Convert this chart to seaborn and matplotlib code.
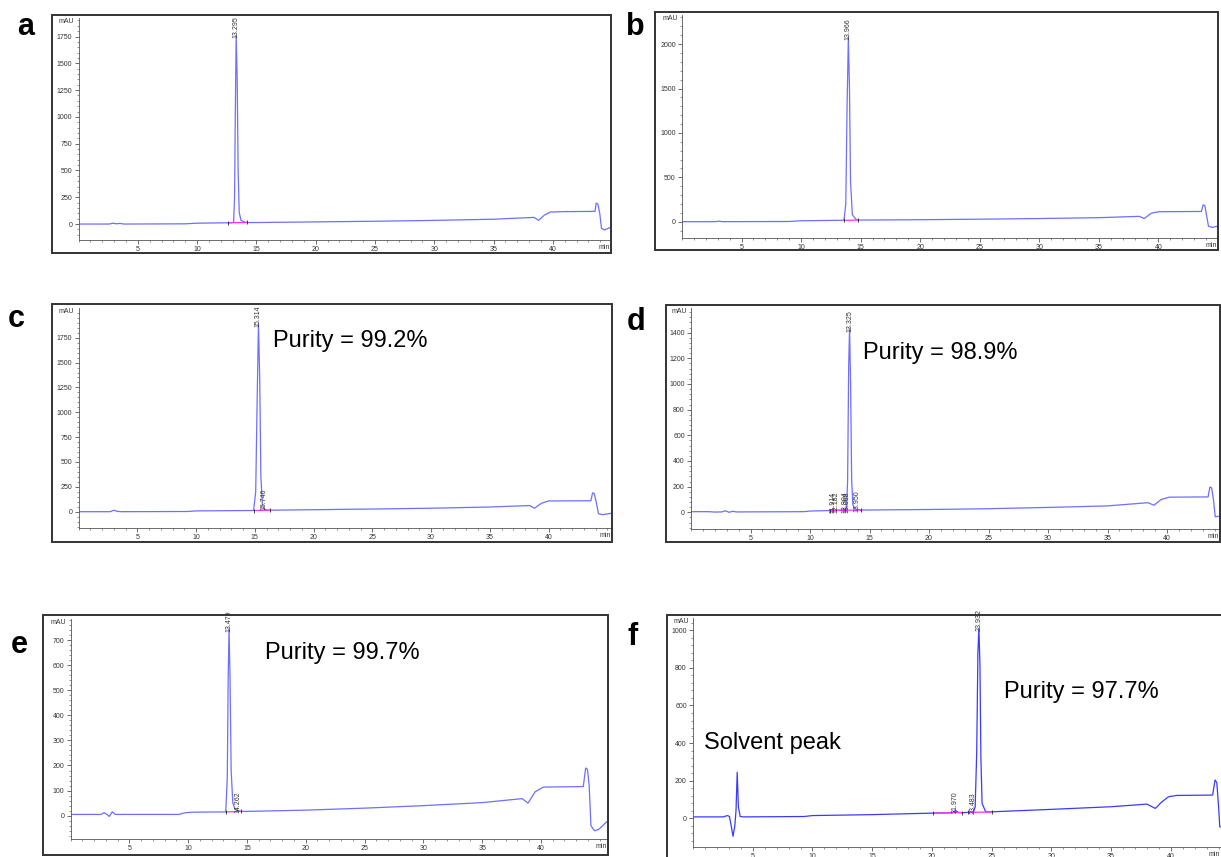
import matplotlib
matplotlib.use("Agg")
import matplotlib.pyplot as plt
import seaborn as sns
import pandas as pd
from matplotlib.patches import Rectangle
from matplotlib.ticker import FixedLocator, MultipleLocator

sns.set_style("white")
plt.rcParams['font.family'] = ['Liberation Sans', 'DejaVu Sans']

# ---------------- data (retention time in min, signal in mAU) ----------------
a_time = [0, 2.6, 2.9, 3.2, 3.5, 3.8, 4.2, 9.0, 10.0, 12.9, 13.08, 13.16, 13.22, 13.295, 13.38,
          13.46, 13.55, 13.7, 14.0, 14.3, 15, 20, 25, 30, 35, 38.4, 38.8, 39.3, 39.8, 41,
          43.55, 43.65, 43.8, 43.95, 44.1, 44.35, 44.9]
a_mau = [0, 0, 8, 2, 6, 0, 0, 2, 8, 12, 16, 250, 1000, 1760, 1350,
         500, 110, 35, 18, 14, 14, 20, 26, 34, 45, 62, 35, 85, 112, 116,
         118, 195, 185, 100, -40, -55, -30]
a_peak_t = [13.295]
a_peak_lab = ["13.295"]
a_peak_h = [1760]
a_base = [(12.6, 12, 14.2, 15)]

b_time = [0, 2.8, 3.1, 3.4, 9, 10, 13.6, 13.75, 13.86, 13.966, 14.06, 14.15, 14.3, 14.6, 15,
          20, 25, 30, 35, 38.4, 38.8, 39.4, 40, 43.6, 43.75, 43.9, 44.0, 44.2, 44.5, 45]
b_mau = [0, 0, 6, 0, 2, 10, 16, 200, 1300, 2080, 1500, 450, 80, 25, 18,
         22, 28, 35, 45, 60, 35, 95, 112, 115, 190, 180, 100, -50, -65, -50]
b_peak_t = [13.966]
b_peak_lab = ["13.966"]
b_peak_h = [2080]
b_base = [(13.6, 14, 14.8, 18)]

c_time = [0, 2.7, 3.0, 3.3, 3.7, 9.3, 10, 14.9, 15.08, 15.2, 15.314, 15.42, 15.52, 15.65, 15.746,
          15.9, 16.3, 20, 25, 30, 35, 38.4, 38.8, 39.4, 40, 43.6, 43.75, 43.9, 44.05, 44.25,
          44.6, 45.4]
c_mau = [0, 0, 15, 3, 0, 2, 8, 12, 200, 1100, 1890, 1350, 350, 70, 40,
         20, 15, 20, 27, 35, 47, 62, 35, 85, 108, 110, 190, 180, 100, -20,
         -30, -15]
c_peak_t = [15.314, 15.746]
c_peak_lab = ["15.314", "15.746"]
c_peak_h = [1890, 40]
c_base = [(14.9, 12, 16.3, 15)]

d_time = [0, 1.5, 2.0, 2.6, 2.9, 3.2, 3.5, 3.8, 9.5, 10, 11.914, 12.182, 12.904, 13.068, 13.16,
          13.25, 13.325, 13.41, 13.5, 13.6, 13.75, 13.95, 14.3, 15, 20, 25, 30, 35, 38.4,
          38.9, 39.5, 40.2, 43.45, 43.6, 43.75, 43.9, 44.05, 44.45]
d_mau = [5, 5, 2, 3, 12, 0, 8, 3, 5, 10, 14, 16, 18, 20, 250,
         1150, 1430, 1000, 250, 60, 28, 22, 18, 18, 22, 28, 38, 50, 75,
         55, 100, 118, 120, 197, 190, 100, -35, -30]
d_peak_t = [11.914, 12.182, 12.904, 13.068, 13.325, 13.950]
d_peak_lab = ["11.914", "12.182", "12.904", "13.068", "13.325", "13.950"]
d_peak_h = [16, 16, 18, 18, 1430, 22]
d_base = [(11.7, 14, 14.3, 18)]

e_time = [0, 2.6, 2.85, 3.1, 3.3, 3.55, 3.8, 9.2, 9.8, 10.5, 13.2, 13.33, 13.41, 13.479, 13.56,
          13.66, 13.8, 14.0, 14.262, 14.5, 15, 20, 25, 30, 35, 38.4, 38.9, 39.5, 40.2, 43.6,
          43.8, 43.95, 44.1, 44.25, 44.55, 44.9, 45.7]
e_mau = [5, 5, 12, 5, -3, 15, 5, 5, 12, 14, 15, 150, 560, 745, 560,
         180, 50, 25, 20, 17, 17, 22, 30, 40, 52, 68, 50, 95, 114, 116,
         190, 185, 120, -40, -60, -55, -20]
e_peak_t = [13.479, 14.262]
e_peak_lab = ["13.479", "14.262"]
e_peak_h = [745, 20]
e_base = [(13.2, 15, 14.5, 17)]

f_time = [0, 2.5, 2.9, 3.05, 3.2, 3.35, 3.5, 3.6, 3.7, 3.8, 3.95, 4.2, 9.3, 10, 15,
          20, 21.7, 21.97, 22.2, 22.5, 23.3, 23.483, 23.62, 23.75, 23.85, 23.932, 24.02, 24.1, 24.2, 24.5,
          25, 30, 35, 38.0, 38.7, 39.2, 39.8, 40.5, 43.5, 43.7, 43.85, 44.0, 44.1, 44.2]
f_mau = [8, 8, 15, 10, -40, -95, -40, 40, 245, 60, 10, 8, 10, 15, 20,
         28, 30, 42, 32, 30, 33, 36, 60, 350, 880, 1010, 820, 320, 80, 35,
         35, 48, 62, 76, 53, 85, 115, 122, 124, 204, 190, 60, -45, -45]
f_peak_t = [21.970, 23.483, 23.932]
f_peak_lab = ["21.970", "23.483", "23.932"]
f_peak_h = [42, 36, 1010]
f_base = [(20.1, 28, 22.5, 31), (23.0, 32, 25.0, 34)]

purity_text = {"c": "Purity = 99.2%", "d": "Purity = 98.9%",
               "e": "Purity = 99.7%", "f": "Purity = 97.7%"}

# ---------------- layout (pixels) ----------------
W, H = 1221, 857
fig = plt.figure(figsize=(W / 100, H / 100), dpi=100)


def fx(p):
    return p / W


def fy(p):
    return 1 - p / H


panels = [
    dict(letter="a", t=a_time, v=a_mau, pk=(a_peak_t, a_peak_lab, a_peak_h), base=a_base,
         frame=(52, 15, 611, 253), axes=(78.5, 18, 611, 240), xlim=(0, 44.9), ylim=(-149, 1923),
         ymaj=250, ymin=50, ytop=1750, lpos=(17, 35), color="#6e6eff"),
    dict(letter="b", t=b_time, v=b_mau, pk=(b_peak_t, b_peak_lab, b_peak_h), base=b_base,
         frame=(655, 12, 1218, 250), axes=(682, 15, 1218, 238), xlim=(0, 45.0), ylim=(-184, 2328),
         ymaj=500, ymin=100, ytop=2000, lpos=(626, 35), color="#6e6eff"),
    dict(letter="c", t=c_time, v=c_mau, pk=(c_peak_t, c_peak_lab, c_peak_h), base=c_base,
         frame=(52, 304, 612, 542), axes=(78.5, 308, 612, 528), xlim=(0, 45.4), ylim=(-164, 2049),
         ymaj=250, ymin=50, ytop=1750, lpos=(8, 327), color="#6e6eff"),
    dict(letter="d", t=d_time, v=d_mau, pk=(d_peak_t, d_peak_lab, d_peak_h), base=d_base,
         frame=(666, 305, 1220, 542), axes=(691, 308, 1220, 529), xlim=(0, 44.45), ylim=(-130, 1592),
         ymaj=200, ymin=40, ytop=1400, lpos=(627, 330), color="#6e6eff"),
    dict(letter="e", t=e_time, v=e_mau, pk=(e_peak_t, e_peak_lab, e_peak_h), base=e_base,
         frame=(43, 615, 608, 855), axes=(70.5, 619, 608, 839), xlim=(0, 45.7), ylim=(-93, 784),
         ymaj=100, ymin=20, ytop=700, lpos=(11, 653), color="#6e6eff"),
    dict(letter="f", t=f_time, v=f_mau, pk=(f_peak_t, f_peak_lab, f_peak_h), base=f_base,
         frame=(667, 615, 1226, 862), axes=(693, 618, 1221, 847), xlim=(0, 44.2), ylim=(-152, 1065),
         ymaj=200, ymin=40, ytop=1000, lpos=(627, 645), color="#3a3aff"),
]

text_pos = {"c": (273, 341), "d": (863, 353), "e": (265, 653), "f": (1004, 692)}

for p in panels:
    l, t, r, b = p["frame"]
    fig.add_artist(Rectangle((fx(l), fy(b)), (r - l) / W, (b - t) / H, transform=fig.transFigure,
                             fill=False, lw=1.4, ec="#333333", zorder=5))
    al, at, ar, ab = p["axes"]
    ax = fig.add_axes([fx(al), fy(ab), (ar - al) / W, (ab - at) / H])
    ax.patch.set_alpha(0)
    df = pd.DataFrame({"time": p["t"], "mAU": p["v"]})
    sns.lineplot(data=df, x="time", y="mAU", ax=ax, color=p["color"], linewidth=0.9,
                 sort=False, estimator=None)
    for (t0, v0, t1, v1) in p["base"]:
        ax.plot([t0, t1], [v0, v1], color="#ff30ff", lw=0.9, zorder=3)
        ax.plot([t0, t1], [v0, v1], ls="none", marker="|", ms=3, color="#222", mew=0.6, zorder=4)
    for pt, lab, ph in zip(*p["pk"]):
        ax.annotate(lab, xy=(pt, ph), xytext=(0, -2), textcoords="offset points", rotation=90,
                    ha="center", va="bottom", fontsize=5, color="#333")
    ax.set_xlim(*p["xlim"])
    ax.set_ylim(*p["ylim"])
    ax.set_xlabel("")
    ax.set_ylabel("")
    ax.xaxis.set_major_locator(FixedLocator(list(range(5, 45, 5))))
    ax.xaxis.set_minor_locator(MultipleLocator(1))
    ax.yaxis.set_major_locator(FixedLocator(list(range(0, p["ytop"] + 1, p["ymaj"]))))
    ax.yaxis.set_minor_locator(MultipleLocator(p["ymin"]))
    ax.tick_params(axis="both", which="major", direction="out", length=3, width=0.6,
                   labelsize=5, colors="#555", labelcolor="#333", pad=1.5)
    ax.tick_params(axis="both", which="minor", direction="out", length=1.6, width=0.5,
                   colors="#666")
    ax.tick_params(left=True, bottom=True, which="both")
    for s in ("top", "right"):
        ax.spines[s].set_visible(False)
    for s in ("left", "bottom"):
        ax.spines[s].set_color("#555")
        ax.spines[s].set_linewidth(0.6)
    ax.grid(False)
    ax.annotate("mAU", xy=(0, 1), xycoords="axes fraction", xytext=(-3, 0),
                textcoords="offset points", ha="right", va="top", fontsize=5, color="#333")
    ax.annotate("min", xy=(1, 0), xycoords="axes fraction", xytext=(-1, -3),
                textcoords="offset points", ha="right", va="top", fontsize=5, color="#333")
    lx, ly = p["lpos"]
    fig.text(fx(lx), fy(ly), p["letter"], fontsize=22, fontweight="bold", ha="left",
             va="baseline", color="black")
    if p["letter"] in purity_text:
        px_, py_ = text_pos[p["letter"]]
        fig.text(fx(px_), fy(py_), purity_text[p["letter"]], fontsize=17, ha="left",
                 va="center", color="black")

fig.text(fx(704), fy(743), "Solvent peak", fontsize=17, ha="left", va="center", color="black")

fig.savefig("out.png", dpi=100, facecolor="white")
